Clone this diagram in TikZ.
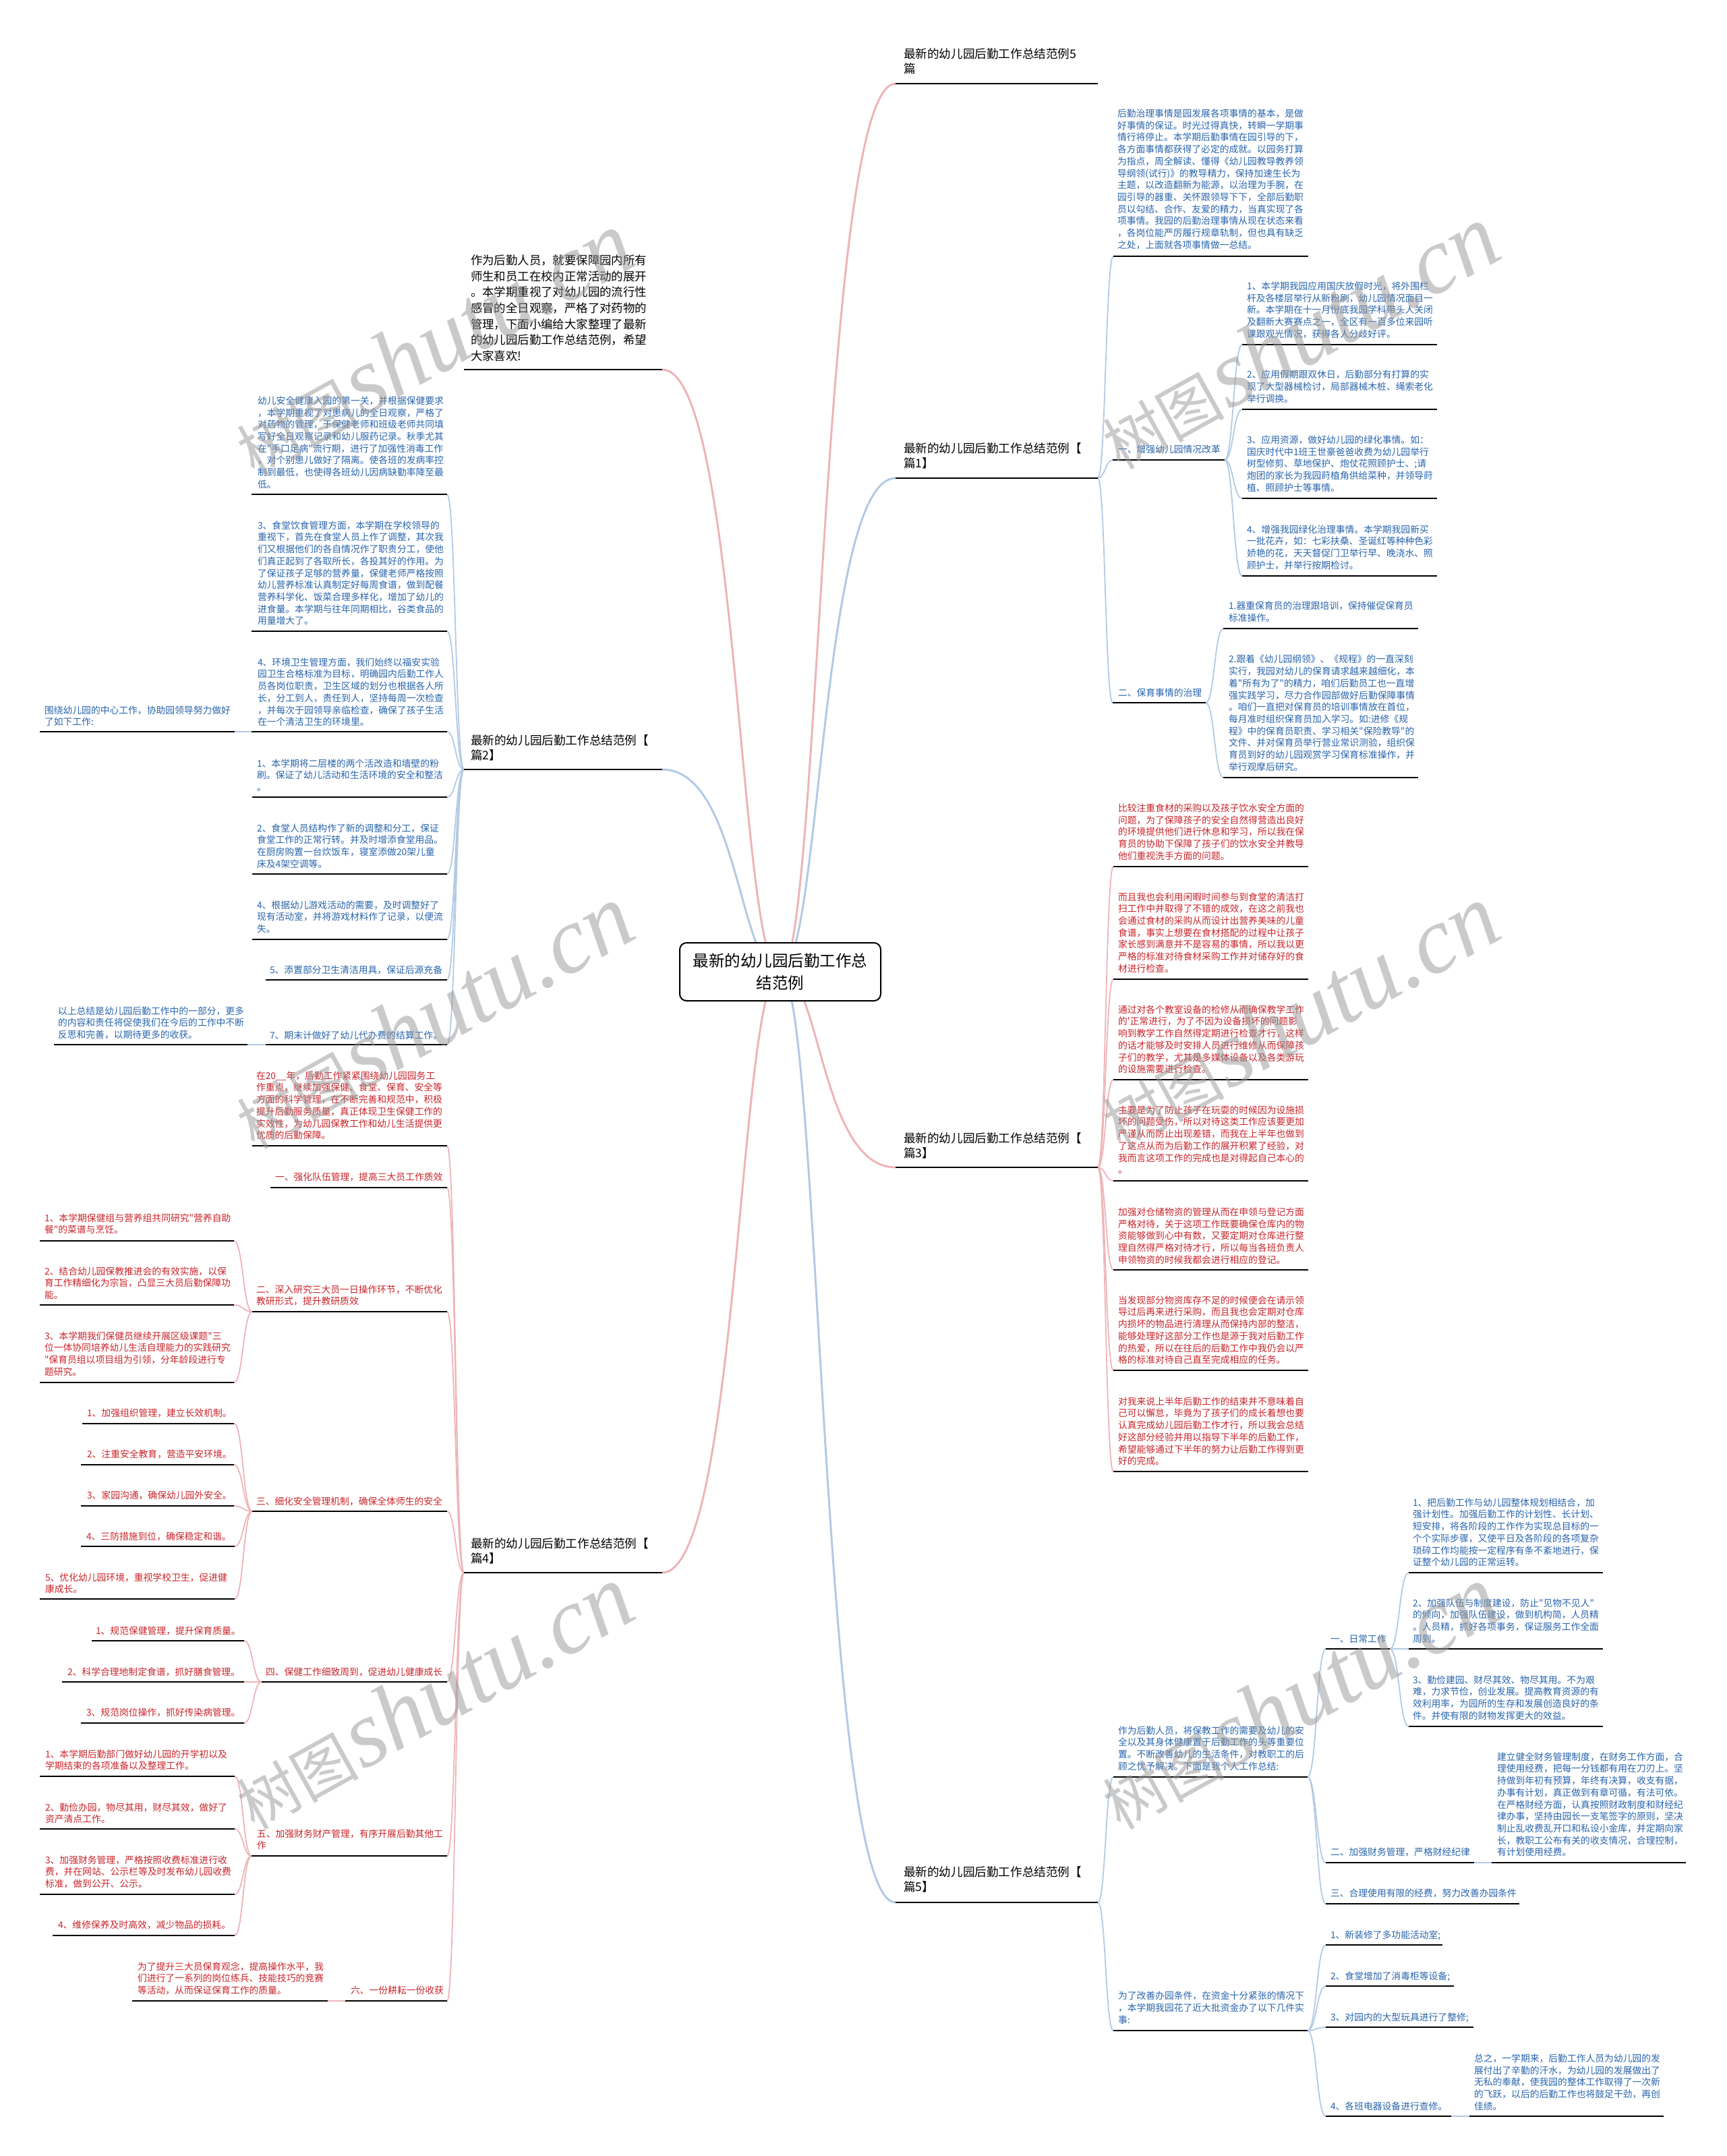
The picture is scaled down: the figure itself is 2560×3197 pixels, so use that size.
\documentclass[tikz,border=0pt]{standalone}
\usepackage{fontspec}
\newfontfamily\cjk{Noto Sans CJK SC}
\newfontfamily\wmfont{Liberation Serif}
\usetikzlibrary{calc}
\definecolor{tblue}{RGB}{40,100,172}
\definecolor{tred}{RGB}{200,36,42}
\definecolor{cblue}{RGB}{178,202,228}
\definecolor{cpink}{RGB}{238,180,184}
\definecolor{wmgray}{RGB}{150,150,150}
\pgfdeclarelayer{bg}
\pgfdeclarelayer{fg}
\pgfsetlayers{bg,main,fg}
% #4 = centre y of the LAST text line (base anchor of a multi-line node is its last line)
\newcommand\mmnode[8]{%
  \node[#2] (#1) at (#3,#4) {#8};
  \coordinate (#1-l) at (#5,#7);
  \coordinate (#1-r) at (#6,#7);
  \draw[uline] (#1-l) -- (#1-r);
}
\newcommand\mmconn[4][0.5]{%
  \draw[#2] let \p1=(#3), \p2=(#4), \n1={\x1+#1*(\x2-\x1)} in (\p1) .. controls (\n1,\y1) and (\n1,\y2) .. (\p2);
}
\tikzset{
  every node/.style={inner sep=0pt, outer sep=0pt},
  txt/.style={anchor=base west, align=left, font=\cjk\fontsize{13.8}{17.7}\selectfont, yshift=-5.2pt},
  bt/.style={txt, text=tblue},
  rt/.style={txt, text=tred},
  lab/.style={anchor=base west, align=left, font=\cjk\fontsize{17.6}{22}\selectfont, yshift=-6.7pt, text=black},
  introtxt/.style={anchor=base west, align=left, font=\cjk\fontsize{17.4}{23.7}\selectfont, yshift=-6.6pt, text=black},
  uline/.style={line width=2.6pt, black},
  bcon/.style={line width=1.8pt, cblue},
  pcon/.style={line width=1.8pt, cpink},
  bmain/.style={line width=3pt, cblue},
  pmain/.style={line width=3pt, cpink},
  ctrbox/.style={draw=black, line width=2pt, fill=white, rounded corners=10pt, minimum width=298pt, minimum height=86pt, align=center, font=\cjk\fontsize{23.5}{33}\selectfont},
  wm/.style={rotate=29, text=wmgray, opacity=0.5, text opacity=0.5},
}
\begin{document}
\begin{tikzpicture}[x=1pt,y=-1pt]
\useasboundingbox (0,0) rectangle (2560,3197);
\node[ctrbox] (ctr) at (1157,1441) {最新的幼儿园后勤工作总\\结范例};
% ---------------- right side ----------------
\mmnode{title}{lab}{1340}{102}{1328}{1628}{124}{最新的幼儿园后勤工作总结范例5\\篇}
\mmnode{r1}{lab}{1340}{687}{1328}{1628}{709}{最新的幼儿园后勤工作总结范例【\\篇1】}
\mmnode{r1t}{bt}{1657}{363}{1651}{1940}{380}{后勤治理事情是园发展各项事情的基本，是做\\好事情的保证。时光过得真快，转瞬一学期事\\情行将停止。本学期后勤事情在园引导的下，\\各方面事情都获得了必定的成就。以园务打算\\为指点，周全解读、懂得《幼儿园教导教养领\\导纲领(试行)》的教导精力，保持加速生长为\\主题，以改造翻新为能源，以治理为手腕，在\\园引导的器重、关怀跟领导下下，全部后勤职\\员以勾结、合作、友爱的精力，当真实现了各\\项事情。我园的后勤治理事情从现在状态来看\\，各岗位能严厉履行规章轨制，但也具有缺乏\\之处，上面就各项事情做一总结。}
\mmnode{r1a}{bt}{1658}{666}{1650}{1816}{682}{一、增强幼儿园情况改革}
\mmnode{r1a1}{bt}{1849}{495}{1842}{2131}{511}{1、本学期我园应用国庆放假时光，将外围栏\\杆及各楼层举行从新粉刷，幼儿园情况面目一\\新。本学期在十一月份底我园学科带头人关闭\\及翻新大赛赛点之一，全区有一百多位来园听\\课跟观光情况，获得各人分歧好评。}
\mmnode{r1a2}{bt}{1849}{591}{1842}{2131}{607}{2、应用假期跟双休日，后勤部分有打算的实\\现了大型器械检讨，局部器械木桩、绳索老化\\举行调换。}
\mmnode{r1a3}{bt}{1849}{723}{1842}{2131}{739}{3、应用资源，做好幼儿园的绿化事情。如：\\国庆时代中1班王世豪爸爸收费为幼儿园举行\\树型修剪、草地保护、炮仗花照顾护士、;请\\炮团的家长为我园莳植角供给菜种，并领导莳\\植、照顾护士等事情。}
\mmnode{r1a4}{bt}{1849}{838}{1842}{2131}{854}{4、增强我园绿化治理事情。本学期我园新买\\一批花卉，如：七彩扶桑、圣诞红等种种色彩\\娇艳的花，天天督促门卫举行早、晚浇水、照\\顾护士，并举行按期检讨。}
\mmnode{r1b}{bt}{1658}{1027}{1650}{1788}{1042}{二、保育事情的治理}
\mmnode{r1b1}{bt}{1822}{916}{1814}{2103}{932}{1.器重保育员的治理跟培训，保持催促保育员\\标准操作。}
\mmnode{r1b2}{bt}{1822}{1137}{1814}{2103}{1153}{2.跟着《幼儿园纲领》、《规程》的一直深刻\\实行，我园对幼儿的保育请求越来越细化，本\\着"所有为了"的精力，咱们后勤员工也一直增\\强实践学习，尽力合作园部做好后勤保障事情\\。咱们一直把对保育员的培训事情放在首位，\\每月准时组织保育员加入学习。如:进修《规\\程》中的保育员职责、学习相关"保险教导"的\\文件、并对保育员举行营业常识测验，组织保\\育员到好的幼儿园观赏学习保育标准操作，并\\举行观摩后研究。}
\mmnode{r3}{lab}{1340}{1710}{1328}{1628}{1731}{最新的幼儿园后勤工作总结范例【\\篇3】}
\mmnode{c1}{rt}{1658}{1269}{1651}{1940}{1285}{比较注重食材的采购以及孩子饮水安全方面的\\问题，为了保障孩子的安全自然得营造出良好\\的环境提供他们进行休息和学习，所以我在保\\育员的协助下保障了孩子们的饮水安全并教导\\他们重视洗手方面的问题。}
\mmnode{c2}{rt}{1658}{1436}{1651}{1940}{1452}{而且我也会利用闲暇时间参与到食堂的清洁打\\扫工作中并取得了不错的成效，在这之前我也\\会通过食材的采购从而设计出营养美味的儿童\\食谱，事实上想要在食材搭配的过程中让孩子\\家长感到满意并不是容易的事情，所以我以更\\严格的标准对待食材采购工作并对储存好的食\\材进行检查。}
\mmnode{c3}{rt}{1658}{1585.5}{1651}{1940}{1601}{通过对各个教室设备的检修从而确保教学工作\\的'正常进行，为了不因为设备损坏的问题影\\响到教学工作自然得定期进行检查才行，这样\\的话才能够及时安排人员进行维修从而保障孩\\子们的教学，尤其是多媒体设备以及各类游玩\\的设施需要进行检查。}
\mmnode{c4}{rt}{1658}{1734.5}{1651}{1940}{1751}{主要是为了防止孩子在玩耍的时候因为设施损\\坏的问题受伤，所以对待这类工作应该要更加\\严谨从而防止出现差错，而我在上半年也做到\\了这点从而为后勤工作的展开积累了经验，对\\我而言这项工作的完成也是对得起自己本心的\\。}
\mmnode{c5}{rt}{1658}{1868}{1651}{1940}{1883}{加强对仓储物资的管理从而在申领与登记方面\\严格对待，关于这项工作既要确保仓库内的物\\资能够做到心中有数，又要定期对仓库进行整\\理自然得严格对待才行，所以每当各班负责人\\申领物资的时候我都会进行相应的登记。}
\mmnode{c6}{rt}{1658}{2016.5}{1651}{1940}{2032}{当发现部分物资库存不足的时候便会在请示领\\导过后再来进行采购，而且我也会定期对仓库\\内损坏的物品进行清理从而保持内部的整洁，\\能够处理好这部分工作也是源于我对后勤工作\\的热爱，所以在往后的后勤工作中我仍会以严\\格的标准对待自己直至完成相应的任务。}
\mmnode{c7}{rt}{1658}{2166.5}{1651}{1940}{2182}{对我来说上半年后勤工作的结束并不意味着自\\己可以懈怠，毕竟为了孩子们的成长着想也要\\认真完成幼儿园后勤工作才行，所以我会总结\\好这部分经验并用以指导下半年的后勤工作，\\希望能够通过下半年的努力让后勤工作得到更\\好的完成。}
\mmnode{r5}{lab}{1340}{2798}{1328}{1628}{2821}{最新的幼儿园后勤工作总结范例【\\篇5】}
\mmnode{p1}{bt}{1658}{2619}{1651}{1939}{2635}{作为后勤人员，将保教工作的需要及幼儿的安\\全以及其身体健康置于后勤工作的头等重要位\\置。不断改善幼儿的生活条件，对教职工的后\\顾之忧予解决。下面是我个人工作总结:}
\mmnode{p1a}{bt}{1973}{2430}{1966}{2061}{2445}{一、日常工作}
\mmnode{i1}{bt}{2095}{2316.5}{2089}{2377}{2332}{1、把后勤工作与幼儿园整体规划相结合，加\\强计划性。加强后勤工作的计划性、长计划、\\短安排，将各阶段的工作作为实现总目标的一\\个个实际步骤，又使平日及各阶段的各项复杂\\琐碎工作均能按一定程序有条不紊地进行，保\\证整个幼儿园的正常运转。}
\mmnode{i2}{bt}{2095}{2430}{2089}{2377}{2445}{2、加强队伍与制度建设，防止"见物不见人"\\的倾向，加强队伍建设，做到机构简，人员精\\。人员精，抓好各项事务，保证服务工作全面\\周到。}
\mmnode{i3}{bt}{2095}{2544}{2089}{2377}{2560}{3、勤俭建园、财尽其效、物尽其用。不为艰\\难，力求节俭，创业发展。提高教育资源的有\\效利用率，为园所的生存和发展创造良好的条\\件。并使有限的财物发挥更大的效益。}
\mmnode{p1b}{bt}{1973}{2746}{1966}{2186}{2762}{二、加强财务管理，严格财经纪律}
\mmnode{f1}{bt}{2220}{2746.6}{2212}{2500}{2762}{建立健全财务管理制度，在财务工作方面，合\\理使用经费，把每一分钱都有用在刀刃上。坚\\持做到年初有预算，年终有决算，收支有据，\\办事有计划，真正做到有章可循，有法可依。\\在严格财经方面，认真按照财政制度和财经纪\\律办事，坚持由园长一支笔签字的原则，坚决\\制止乱收费乱开口和私设小金库，并定期向家\\长，教职工公布有关的收支情况，合理控制，\\有计划使用经费。}
\mmnode{p1c}{bt}{1973}{2807}{1966}{2253}{2823}{三、合理使用有限的经费，努力改善办园条件}
\mmnode{p2}{bt}{1658}{2995}{1651}{1939}{3011}{为了改善办园条件，在资金十分紧张的情况下\\，本学期我园花了近大批资金办了以下几件实\\事:}
\mmnode{q1}{bt}{1973}{2869}{1966}{2139}{2884}{1、新装修了多功能活动室;}
\mmnode{q2}{bt}{1973}{2930}{1966}{2156}{2945}{2、食堂增加了消毒柜等设备;}
\mmnode{q3}{bt}{1973}{2991}{1966}{2185}{3006}{3、对园内的大型玩具进行了整修;}
\mmnode{q4}{bt}{1973}{3123}{1966}{2152}{3138}{4、各班电器设备进行查修。}
\mmnode{q4a}{bt}{2186}{3123}{2179}{2467}{3138}{总之，一学期来，后勤工作人员为幼儿园的发\\展付出了辛勤的汗水，为幼儿园的发展做出了\\无私的奉献，使我园的整体工作取得了一次新\\的飞跃，以后的后勤工作也将鼓足干劲，再创\\佳绩。}
% ---------------- left side ----------------
\mmnode{intro}{introtxt}{698}{528}{688}{982}{548}{作为后勤人员，就要保障园内所有\\师生和员工在校内正常活动的展开\\。本学期重视了对幼儿园的流行性\\感冒的全日观察，严格了对药物的\\管理，下面小编给大家整理了最新\\的幼儿园后勤工作总结范例，希望\\大家喜欢!}
\mmnode{l2}{lab}{698}{1120}{688}{982}{1141}{最新的幼儿园后勤工作总结范例【\\篇2】}
\mmnode{L1}{bt}{382}{718}{373}{663}{733}{幼儿安全健康入园的第一关，并根据保健要求\\，本学期重视了对患病儿的全日观察，严格了\\对药物的管理，于保健老师和班级老师共同填\\写好全日观察记录和幼儿服药记录。秋季尤其\\在"手口足病"流行期，进行了加强性消毒工作\\，对个别患儿做好了隔离。使各班的发病率控\\制到最低，也使得各班幼儿因病缺勤率降至最\\低。}
\mmnode{L2}{bt}{382}{920.6}{373}{663}{936}{3、食堂饮食管理方面，本学期在学校领导的\\重视下，首先在食堂人员上作了调整，其次我\\们又根据他们的各自情况作了职责分工，使他\\们真正起到了各取所长，各投其好的作用。为\\了保证孩子足够的营养量，保健老师严格按照\\幼儿营养标准认真制定好每周食谱，做到配餐\\营养科学化、饭菜合理多样化，增加了幼儿的\\进食量。本学期与往年同期相比，谷类食品的\\用量增大了。}
\mmnode{L3}{bt}{382}{1070.5}{373}{663}{1085}{4、环境卫生管理方面，我们始终以福安实验\\园卫生合格标准为目标，明确园内后勤工作人\\员各岗位职责，卫生区域的划分也根据各人所\\长，分工到人，责任到人，坚持每周一次检查\\，并每次于园领导亲临检查，确保了孩子生活\\在一个清洁卫生的环境里。}
\mmnode{L3a}{bt}{66}{1070.7}{59}{348}{1085}{围绕幼儿园的中心工作，协助园领导努力做好\\了如下工作:}
\mmnode{L4}{bt}{381}{1167.4}{374}{663}{1182}{1、本学期将二层楼的两个活改造和墙壁的粉\\刷。保证了幼儿活动和生活环境的安全和整洁\\。}
\mmnode{L5}{bt}{381}{1281}{374}{663}{1296}{2、食堂人员结构作了新的调整和分工，保证\\食堂工作的正常行转。并及时增添食堂用品。\\在厨房购置一台炊饭车，寝室添做20架儿童\\床及4架空调等。}
\mmnode{L6}{bt}{381}{1377.4}{374}{663}{1393}{4、根据幼儿游戏活动的需要，及时调整好了\\现有活动室，并将游戏材料作了记录，以便流\\失。}
\mmnode{L7}{bt}{400}{1438}{394}{663}{1453}{5、添置部分卫生清洁用具，保证后源充备}
\mmnode{L8}{bt}{400}{1535}{394}{663}{1549}{7、期末计做好了幼儿代办费的结算工作。}
\mmnode{L8a}{bt}{86}{1534.4}{80}{367}{1549}{以上总结是幼儿园后勤工作中的一部分，更多\\的内容和责任将促使我们在今后的工作中不断\\反思和完善，以期待更多的收获。}
\mmnode{l4}{lab}{698}{2311}{688}{982}{2332}{最新的幼儿园后勤工作总结范例【\\篇4】}
\mmnode{M0}{rt}{380}{1683.5}{374}{663}{1699}{在20\_\_年，后勤工作紧紧围绕幼儿园园务工\\作重点，继续加强保健、食堂、保育、安全等\\方面的科学管理，在不断完善和规范中，积极\\提升后勤服务质量，真正体现卫生保健工作的\\实效性，为幼儿园保教工作和幼儿生活提供更\\优质的后勤保障。}
\mmnode{M1}{rt}{408}{1745}{401}{663}{1761}{一、强化队伍管理，提高三大员工作质效}
\mmnode{M2}{rt}{380}{1929.7}{374}{663}{1945}{二、深入研究三大员一日操作环节，不断优化\\教研形式，提升教研质效}
\mmnode{M2a}{rt}{66}{1823.7}{59}{347}{1840}{1、本学期保健组与营养组共同研究"营养自助\\餐"的菜谱与烹饪。}
\mmnode{M2b}{rt}{66}{1920.4}{59}{347}{1935}{2、结合幼儿园保教推进会的有效实施，以保\\育工作精细化为宗旨，凸显三大员后勤保障功\\能。}
\mmnode{M2c}{rt}{66}{2034}{59}{347}{2050}{3、本学期我们保健员继续开展区级课题"三\\位一体协同培养幼儿生活自理能力的实践研究\\"保育员组以项目组为引领，分年龄段进行专\\题研究。}
\mmnode{M3}{rt}{380}{2226}{374}{663}{2241}{三、细化安全管理机制，确保全体师生的安全}
\mmnode{M3a}{rt}{129}{2095}{122}{347}{2111}{1、加强组织管理，建立长效机制。}
\mmnode{M3b}{rt}{129}{2156}{120}{347}{2172}{2、注重安全教育，营造平安环境。}
\mmnode{M3c}{rt}{129}{2217}{120}{347}{2233}{3、家园沟通，确保幼儿园外安全。}
\mmnode{M3d}{rt}{128}{2278}{120}{348}{2293}{4、三防措施到位，确保稳定和谐。}
\mmnode{M3e}{rt}{67}{2356.7}{59}{348}{2371}{5、优化幼儿园环境，重视学校卫生，促进健\\康成长。}
\mmnode{M4}{rt}{394}{2479}{388}{663}{2494}{四、保健工作细致周到，促进幼儿健康成长}
\mmnode{M4a}{rt}{142}{2418}{136}{362}{2433}{1、规范保健管理，提升保育质量。}
\mmnode{M4b}{rt}{100}{2479}{92}{362}{2494}{2、科学合理地制定食谱，抓好膳食管理。}
\mmnode{M4c}{rt}{128}{2539}{120}{362}{2555}{3、规范岗位操作，抓好传染病管理。}
\mmnode{M5}{rt}{381}{2736.7}{373}{663}{2752}{五、加强财务财产管理，有序开展后勤其他工\\作}
\mmnode{M5a}{rt}{67}{2618.7}{59}{348}{2634}{1、本学期后勤部门做好幼儿园的开学初以及\\学期结束的各项准备以及整理工作。}
\mmnode{M5b}{rt}{67}{2697.7}{59}{348}{2712}{2、勤俭办园，物尽其用，财尽其效，做好了\\资产清点工作。}
\mmnode{M5c}{rt}{67}{2793.4}{59}{348}{2809}{3、加强财务管理，严格按照收费标准进行收\\费，并在网站、公示栏等及时发布幼儿园收费\\标准，做到公开、公示。}
\mmnode{M5d}{rt}{86}{2854}{78}{348}{2870}{4、维修保养及时高效，减少物品的损耗。}
\mmnode{M6}{rt}{520}{2951}{512}{663}{2967}{六、一份耕耘一份收获}
\mmnode{M6a}{rt}{204}{2951.4}{196}{486}{2967}{为了提升三大员保育观念，提高操作水平，我\\们进行了一系列的岗位练兵、技能技巧的竞赛\\等活动，从而保证保育工作的质量。}
% ---------------- connectors ----------------
\begin{pgfonlayer}{bg}
\mmconn[0.35]{pmain}{ctr.center}{title-l}
\mmconn[0.35]{bmain}{ctr.center}{r1-l}
\mmconn[0.35]{pmain}{ctr.center}{r3-l}
\mmconn[0.35]{bmain}{ctr.center}{r5-l}
\mmconn[0.35]{pmain}{ctr.center}{intro-r}
\mmconn[0.35]{bmain}{ctr.center}{l2-r}
\mmconn[0.35]{pmain}{ctr.center}{l4-r}
\foreach \t in {r1t,r1a,r1b}{\mmconn{bcon}{r1-r}{\t-l}}
\foreach \t in {r1a1,r1a2,r1a3,r1a4}{\mmconn{bcon}{r1a-r}{\t-l}}
\foreach \t in {r1b1,r1b2}{\mmconn{bcon}{r1b-r}{\t-l}}
\foreach \t in {c1,c2,c3,c4,c5,c6,c7}{\mmconn{pcon}{r3-r}{\t-l}}
\foreach \t in {p1,p2}{\mmconn{bcon}{r5-r}{\t-l}}
\foreach \t in {p1a,p1b,p1c}{\mmconn{bcon}{p1-r}{\t-l}}
\foreach \t in {i1,i2,i3}{\mmconn{bcon}{p1a-r}{\t-l}}
\mmconn{bcon}{p1b-r}{f1-l}
\foreach \t in {q1,q2,q3,q4}{\mmconn{bcon}{p2-r}{\t-l}}
\mmconn{bcon}{q4-r}{q4a-l}
\foreach \t in {L1,L2,L3,L4,L5,L6,L7,L8}{\mmconn{bcon}{l2-l}{\t-r}}
\mmconn{bcon}{L3-l}{L3a-r}
\mmconn{bcon}{L8-l}{L8a-r}
\foreach \t in {M0,M1,M2,M3,M4,M5,M6}{\mmconn{pcon}{l4-l}{\t-r}}
\foreach \t in {M2a,M2b,M2c}{\mmconn{pcon}{M2-l}{\t-r}}
\foreach \t in {M3a,M3b,M3c,M3d,M3e}{\mmconn{pcon}{M3-l}{\t-r}}
\foreach \t in {M4a,M4b,M4c}{\mmconn{pcon}{M4-l}{\t-r}}
\foreach \t in {M5a,M5b,M5c,M5d}{\mmconn{pcon}{M5-l}{\t-r}}
\mmconn{pcon}{M6-l}{M6a-r}
\end{pgfonlayer}
% ---------------- watermarks ----------------
\begin{pgfonlayer}{fg}
\foreach \wx/\wy [count=\k] in {642/510, 1926/500, 642/1508, 1926/1508, 642/2517, 1926/2517}{
  \node[wm] (wm\k) at (\wx,\wy) {{\cjk\fontsize{90}{90}\selectfont 树图} {\wmfont\itshape\fontsize{140}{140}\selectfont shutu.cn}};
}
\end{pgfonlayer}
\end{tikzpicture}
\end{document}
